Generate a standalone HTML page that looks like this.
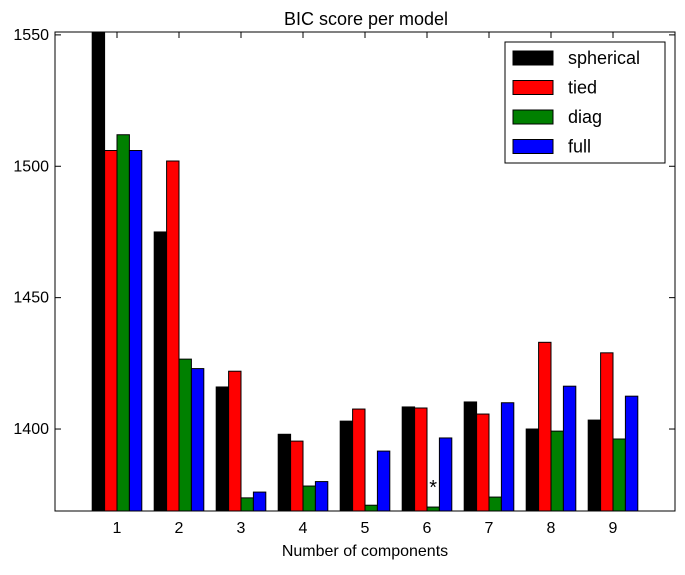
<!DOCTYPE html>
<html><head><meta charset="utf-8">
<style>
html,body{margin:0;padding:0;background:#fff;}
svg text{font-family:"Liberation Sans","DejaVu Sans",sans-serif;}
</style></head>
<body>
<svg id="chart" width="685" height="570" viewBox="0 0 685 570" xmlns="http://www.w3.org/2000/svg">
<text x="366" y="25" font-size="18" text-anchor="middle">BIC score per model</text>
<g id="bars"></g>
<g id="axes"></g>
<text x="365" y="556" font-size="16" text-anchor="middle">Number of components</text>
</svg>
<script>
const categories = [1,2,3,4,5,6,7,8,9];
const seriesNames = ['spherical','tied','diag','full'];
const seriesColors = ['#000000','#ff0000','#008000','#0000ff'];
const spherical = [1570,1475,1416,1398,1403,1408.4,1410.3,1400,1403.4];
const tied = [1506,1502,1422,1395.4,1407.6,1408,1405.7,1433,1429];
const diag = [1512,1426.6,1373.8,1378.3,1371,1370.3,1374.1,1399.2,1396.2];
const full = [1506,1423,1376,1380,1391.6,1396.6,1410,1416.3,1412.5];
const yTicks = [1400,1450,1500,1550];
const bestModel = {component: 6, series: 2};

const series = [spherical, tied, diag, full];
const L=55,R=675,T=32,B=511;
const yMin=1368.8, yMax=1551.1, xMin=0, xMax=10;
const NS='http://www.w3.org/2000/svg';
function xs(v){return L+(v-xMin)/(xMax-xMin)*(R-L);}
function ys(v){return B-(v-yMin)/(yMax-yMin)*(B-T);}
const svg=document.getElementById('chart');
const bars=document.getElementById('bars');
const axes=document.getElementById('axes');
function mk(tag,attrs,parent){const e=document.createElementNS(NS,tag);for(const k in attrs)e.setAttribute(k,attrs[k]);parent.appendChild(e);return e;}

const defs=mk('defs',{},svg);
const cp=mk('clipPath',{id:'clip'},defs);
mk('rect',{x:L,y:T,width:R-L,height:B-T},cp);
bars.setAttribute('clip-path','url(#clip)');

const bw=0.2;
series.forEach((vals,si)=>{
  vals.forEach((v,i)=>{
    const x0=categories[i]-0.4+si*bw;
    const r=mk('rect',{x:xs(x0),y:ys(v),width:xs(x0+bw)-xs(x0),height:ys(yMin)-ys(v),fill:seriesColors[si],stroke:'#000','stroke-width':1},bars);
    
    
  });
});
const bi=categories.indexOf(bestModel.component);
const st=mk('text',{x:xs(categories[bi]+0.1),y:ys(series[bestModel.series][bi])-13,'font-size':20,'text-anchor':'middle'},svg);
st.textContent='*';



const fr=mk('rect',{x:L,y:T,width:R-L,height:B-T,fill:'none',stroke:'#000','stroke-width':1},axes);


yTicks.forEach(t=>{
  const y=ys(t);
  mk('line',{x1:L,x2:L+6,y1:y,y2:y,stroke:'#000'},axes);
  mk('line',{x1:R,x2:R-6,y1:y,y2:y,stroke:'#000'},axes);
  const tx=mk('text',{x:L-6,y:y+5,'font-size':16,'text-anchor':'end'},axes);
  tx.textContent=t;
  
  
});
categories.forEach(c=>{
  const x=xs(c);
  mk('line',{x1:x,x2:x,y1:B,y2:B-6,stroke:'#000'},axes);
  mk('line',{x1:x,x2:x,y1:T,y2:T+6,stroke:'#000'},axes);
  const tx=mk('text',{x:x,y:B+22,'font-size':16,'text-anchor':'middle'},axes);
  tx.textContent=c;
  
  
});
const lg=mk('g',{},svg);


mk('rect',{x:505,y:42,width:160,height:121,fill:'#fff',stroke:'#000'},lg);
seriesNames.forEach((n,i)=>{
  const y=58+i*29.5;
  const sw=mk('rect',{x:513,y:y-7,width:40,height:14,fill:seriesColors[i],stroke:'#000'},lg);
  
  
  const t=mk('text',{x:568,y:y+6,'font-size':18},lg);
  t.textContent=n;
  
  
});
</script>
</body></html>
